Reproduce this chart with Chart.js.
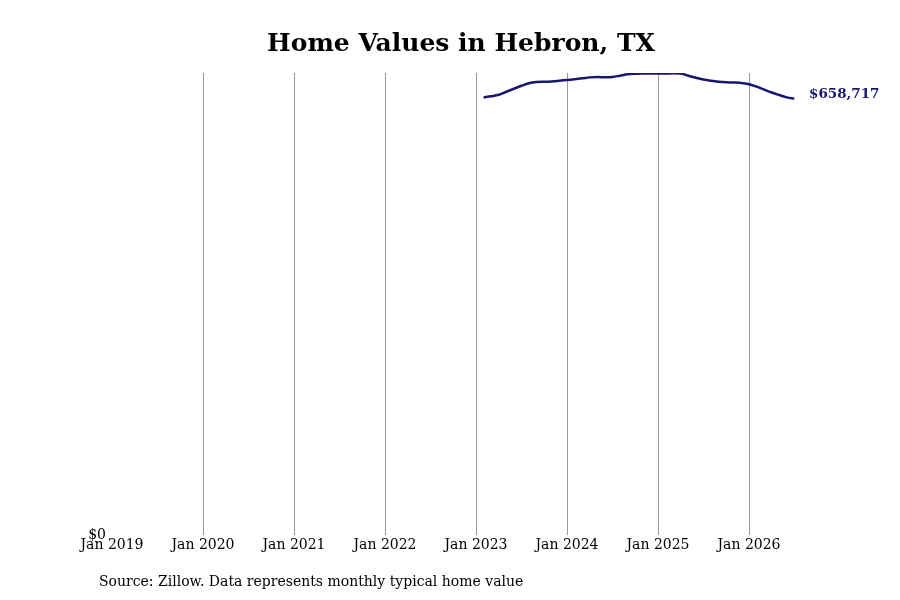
<!DOCTYPE html>
<html>
<head>
<meta charset="utf-8">
<script src="https://cdn.jsdelivr.net/npm/chart.js@4"></script>
<style>
  html, body { margin: 0; padding: 0; background: #fff; }
  #wrap { width: 900px; height: 600px; position: relative; }
</style>
</head>
<body>
<div id="wrap"><canvas id="homeChart" width="900" height="600"></canvas></div>
<script>
// months counted from Jan 2019 (0 = Jan 2019)
const startMonth = 49; // Feb 2023
const homeValues = [
    660400, 662200, 664400, 669000, 673500, 678000, 681800, 683600, 684100, 684500,
    685600, 686800, 687900, 689200, 690700, 691200, 690700, 691300, 693300, 695300,
    696200, 696500, 696500, 696500, 696600, 696800, 696500, 693100, 690100, 687400,
    685600, 684200, 683300, 682900, 682300, 680300, 676800, 672300, 667800, 664000,
    660500, 658717
];
const tickYears = [2019, 2020, 2021, 2022, 2023, 2024, 2025, 2026];
const lastLabel = "$658,717";

const navy = "#1a1570";
const serif = "'DejaVu Serif', serif";

let points = homeValues.map((v, i) => ({ x: startMonth + i, y: v }));

// title, source line and the end value label
const textPlugin = {
    id: "extraText",
    afterDraw(chart) {
        let ctx = chart.ctx;
        ctx.save();
        ctx.fillStyle = "#000";
        ctx.font = "bold 25px " + serif;
        ctx.textAlign = "center";
        ctx.textBaseline = "middle";
        ctx.fillText("Home Values in Hebron, TX", 461, 44);

        ctx.font = "14px " + serif;
        ctx.textAlign = "left";
        ctx.fillText("Source: Zillow. Data represents monthly typical home value", 99, 582);

        let xs = chart.scales.x, ys = chart.scales.y;
        let last = points[points.length - 1];
        ctx.fillStyle = navy;
        ctx.font = "bold 13.5px " + serif;
        ctx.fillText(lastLabel, xs.getPixelForValue(last.x) + 14.5, ys.getPixelForValue(last.y) - 4);
        ctx.restore();
    }
};

new Chart(document.getElementById("homeChart"), {
    type: "line",
    data: {
        datasets: [{
            data: points,
            borderColor: navy,
            borderWidth: 2.5,
            pointRadius: 0,
            fill: false,
            cubicInterpolationMode: "monotone"
        }]
    },
    options: {
        responsive: false,
        animation: false,
        layout: { padding: { left: 0, top: 73, right: 105.5, bottom: 35 } },
        plugins: { legend: { display: false }, tooltip: { enabled: false } },
        scales: {
            x: {
                type: "linear",
                min: 0,
                max: startMonth + homeValues.length - 1,
                afterBuildTicks: scale => {
                    scale.ticks = tickYears.map(y => ({ value: (y - 2019) * 12 }));
                },
                afterFit: scale => { scale.height = 30; },
                ticks: {
                    color: "#000",
                    font: { family: serif, size: 14 },
                    padding: 2,
                    maxRotation: 0,
                    autoSkip: false,
                    callback: v => "Jan " + (2019 + v / 12)
                },
                grid: {
                    drawTicks: false,
                    color: c => (c.tick && c.tick.value === 0) ? "rgba(0,0,0,0)" : "#999",
                    lineWidth: 1
                },
                border: { display: false }
            },
            y: {
                min: 0,
                max: 697300,
                afterBuildTicks: scale => { scale.ticks = [{ value: 0 }]; },
                afterFit: scale => { scale.width = 112; },
                ticks: {
                    color: "#000",
                    font: { family: serif, size: 14 },
                    padding: 6,
                    callback: v => "$" + v
                },
                grid: { display: false, drawTicks: false },
                border: { display: false }
            }
        }
    },
    plugins: [textPlugin]
});
</script>
</body>
</html>
